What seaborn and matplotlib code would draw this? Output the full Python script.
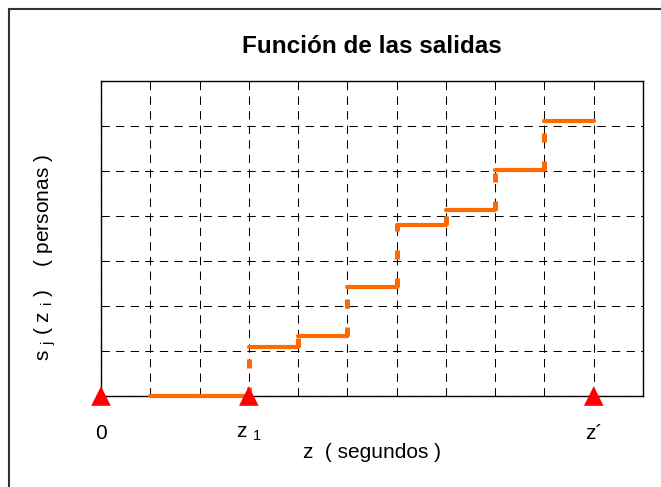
import numpy as np
import pandas as pd
import matplotlib.pyplot as plt
import matplotlib.patches as mpatches
import seaborn as sns

sns.set_style('white')
plt.rcParams['font.family'] = ['Liberation Sans', 'DejaVu Sans']
plt.rcParams['mathtext.fontset'] = 'custom'
plt.rcParams['mathtext.rm'] = 'Liberation Sans'
plt.rcParams['mathtext.it'] = 'Liberation Sans'
plt.rcParams['text.color'] = 'black'
plt.rcParams['axes.labelcolor'] = 'black'
plt.rcParams['xtick.color'] = 'black'

# step function data (x in grid units, y in grid units)
step_start = [1, 3, 4, 5, 6, 7, 8, 9]
step_end = [3, 4, 5, 6, 7, 8, 9, 10]
step_level = [0, 1.08, 1.34, 2.41, 3.80, 4.14, 5.02, 6.10]

marker_x = [0, 3, 10]
tick_labels = {0: '0', 3: r'z $_\mathregular{1}$', 10: 'z\u00b4'}

orange = '#FF6A00'

seg = pd.DataFrame({
    'x': step_start + step_end,
    'y': step_level + step_level,
    'seg': list(range(len(step_start))) * 2,
})

fig = plt.figure(figsize=(6.61, 4.87), dpi=100)
ax = fig.add_axes([101 / 661, 1 - 396 / 487, 542 / 661, 315.3 / 487])

# risers (dashed)
ax.vlines(step_start[1:], step_level[:-1], step_level[1:], colors=orange,
          linewidth=3.6, linestyles=(0, (1.8, 3.8)), zorder=3)
sns.lineplot(data=seg, x='x', y='y', units='seg', estimator=None, color=orange,
             linewidth=3.0, solid_capstyle='round', ax=ax, zorder=4, clip_on=False)

sns.scatterplot(x=marker_x, y=[0] * len(marker_x), marker='^', s=200, color='#FF0000',
                edgecolor='none', ax=ax, zorder=5, clip_on=False)

ax.set_xlim(0, 11)
ax.set_ylim(0, 7)
ax.set_xticks(range(12))
ax.set_xticklabels([tick_labels.get(i, '') for i in range(12)], fontsize=15)
ax.set_yticks(range(8))
ax.set_yticklabels([])
ax.tick_params(axis='both', length=0)
ax.tick_params(axis='x', pad=20)
ax.grid(True, color='black', linestyle=(0, (8, 6)), linewidth=0.75)
for sp in ax.spines.values():
    sp.set_color('black')
    sp.set_linewidth(1.0)

ax.set_title('Función de las salidas', fontsize=17.5, fontweight='bold', pad=20)
ax.set_xlabel('z  ( segundos )', fontsize=15, labelpad=0)
ax.set_ylabel(r's $_\mathregular{j}$ ( z $_\mathregular{i}$ )    ( personas )', fontsize=15)
ax.yaxis.set_label_coords(-0.08, 0.44)

fig.patches.append(mpatches.Rectangle((9 / 661, -0.1), 1.0, 1.1 - 9 / 487, transform=fig.transFigure,
                                      fill=False, edgecolor='#333333', linewidth=1.5))

plt.savefig('out.png', dpi=100)
